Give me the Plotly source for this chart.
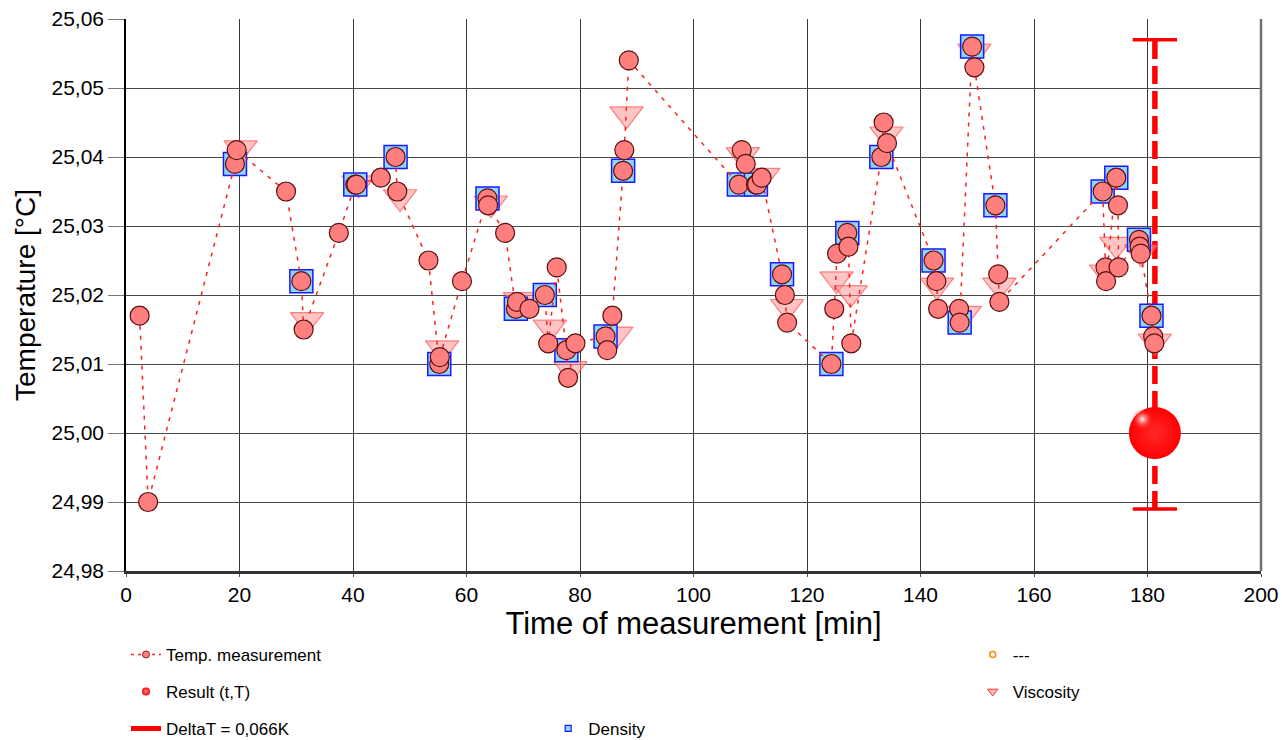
import plotly.graph_objects as go

# ---------------- data ----------------
temp_t = [2.4, 3.9, 19.2, 19.5, 28.2, 30.9, 31.3, 37.5, 40.4, 40.6, 44.9, 47.5, 47.8,
          53.3, 55.2, 55.3, 59.2, 63.7, 63.8, 66.8, 68.7, 68.9, 71.1, 73.8, 74.4,
          75.9, 77.6, 77.9, 79.2, 84.5, 84.8, 85.7, 87.6, 87.8, 88.6, 108.0, 108.5,
          109.2, 111.0, 111.2, 112.0, 115.6, 116.1, 116.5, 124.3, 124.8, 125.3,
          127.1, 127.3, 127.8, 133.1, 133.5, 134.1, 142.3, 142.8, 143.1, 146.8,
          146.9, 149.1, 149.5, 153.2, 153.7, 153.9, 172.1, 172.6, 172.7, 174.5,
          174.8, 174.9, 178.5, 178.6, 178.8, 180.7, 181.0, 181.2]
temp_T = [25.017, 24.990, 25.039, 25.041, 25.035, 25.022, 25.015, 25.029, 25.036, 25.036,
          25.037, 25.040, 25.035, 25.025, 25.010, 25.011, 25.022, 25.034, 25.033, 25.029,
          25.018, 25.019, 25.018, 25.020, 25.013, 25.024, 25.012, 25.008, 25.013, 25.014,
          25.012, 25.017, 25.038, 25.041, 25.054, 25.036, 25.041, 25.039, 25.036, 25.036,
          25.037, 25.023, 25.020, 25.016, 25.010, 25.018, 25.026, 25.029, 25.027, 25.013,
          25.040, 25.045, 25.042, 25.025, 25.022, 25.018, 25.018, 25.016, 25.056, 25.053,
          25.033, 25.023, 25.019, 25.035, 25.024, 25.022, 25.037, 25.033, 25.024, 25.028,
          25.027, 25.026, 25.017, 25.014, 25.013]

density_t = [19.2, 30.9, 40.4, 47.5, 55.2, 63.7, 68.7, 73.8, 77.6, 84.5, 87.6, 108.0,
             111.0, 115.6, 124.3, 127.1, 133.1, 142.3, 146.9, 149.1, 153.2, 172.1,
             174.5, 178.5, 180.7]
density_T = [25.039, 25.022, 25.036, 25.040, 25.010, 25.034, 25.018, 25.020, 25.012,
             25.014, 25.038, 25.036, 25.036, 25.023, 25.010, 25.029, 25.040, 25.025,
             25.016, 25.056, 25.033, 25.035, 25.037, 25.028, 25.017]

visc_t = [20.2, 31.9, 41.0, 48.3, 55.7, 64.3, 69.4, 74.7, 78.3, 86.4, 88.2, 108.7, 112.3,
          116.5, 125.2, 127.7, 134.0, 142.9, 147.8, 149.5, 153.9, 172.7, 174.5, 178.9, 181.3]
visc_T = [25.0413, 25.0164, 25.0362, 25.0342, 25.0123, 25.0333, 25.0193, 25.0153, 25.0093,
          25.0143, 25.0462, 25.0403, 25.0373, 25.0183, 25.0223, 25.0203, 25.0433, 25.0214,
          25.0173, 25.0553, 25.0214, 25.0233, 25.0273, 25.0262, 25.0133]

result_t = 181.3
result_T = 25.000
deltaT_low = 24.989
deltaT_high = 25.057
cap_half = 3.9  # minutes

x_ticks = [0, 20, 40, 60, 80, 100, 120, 140, 160, 180, 200]

FONT = "Liberation Sans, Arial, sans-serif"

fig = go.Figure()

# DeltaT error bar (dashed vertical + caps)
fig.add_trace(go.Scatter(x=[result_t, result_t], y=[deltaT_low, deltaT_high], mode="lines",
                         line=dict(color="#ff0000", width=5.5, dash="18px,7px"),
                         showlegend=False, hoverinfo="skip"))
for yy in (deltaT_low, deltaT_high):
    fig.add_trace(go.Scatter(x=[result_t - cap_half, result_t + cap_half], y=[yy, yy],
                             mode="lines", line=dict(color="#ff0000", width=3.5),
                             showlegend=False, hoverinfo="skip"))

# Viscosity triangles
fig.add_trace(go.Scatter(x=visc_t, y=visc_T, mode="markers",
                         marker=dict(symbol="triangle-down", size=29,
                                     color="rgba(255,150,150,0.55)",
                                     line=dict(color="rgba(255,60,60,0.6)", width=1.2)),
                         showlegend=False))
# Density squares
fig.add_trace(go.Scatter(x=density_t, y=density_T, mode="markers",
                         marker=dict(symbol="square", size=23, color="#8ed6fb",
                                     line=dict(color="#1a1aff", width=1.5)),
                         showlegend=False))
# Temperature line + circles
fig.add_trace(go.Scatter(x=temp_t, y=temp_T, mode="lines",
                         line=dict(color="#ff2020", width=1.5, dash="4px,6px"),
                         showlegend=False))
fig.add_trace(go.Scatter(x=temp_t, y=temp_T, mode="markers",
                         marker=dict(symbol="circle", size=19, color="#ff7f7f",
                                     line=dict(color="#5a1010", width=1.2)),
                         showlegend=False))
# Result sphere
fig.add_trace(go.Scatter(x=[result_t], y=[result_T], mode="markers",
                         marker=dict(symbol="circle", size=52, color="#ff0000",
                                     gradient=dict(type="radial", color="#ff2a2a"),
                                     line=dict(width=0)),
                         showlegend=False))
fig.add_trace(go.Scatter(x=[result_t - 2.2], y=[result_T + 0.0020], mode="markers",
                         marker=dict(symbol="circle", size=22, color="rgba(255,0,0,0)",
                                     gradient=dict(type="radial", color="#ffffff"),
                                     line=dict(width=0)),
                         showlegend=False, hoverinfo="skip"))

# ---------- legend proxies ----------
legend_items = [
    dict(name="Temp. measurement", legend="legend", mode="lines+markers",
         line=dict(color="#ff2020", width=1.5, dash="3px,4px"),
         marker=dict(symbol="circle", size=7, color="#ff8080", line=dict(color="#8b2020", width=1))),
    dict(name="Result (t,T)", legend="legend2", mode="markers",
         marker=dict(symbol="circle", size=8, color="#ff0000",
                     gradient=dict(type="radial", color="#ff9090"))),
    dict(name="DeltaT = 0,066K", legend="legend3", mode="lines",
         line=dict(color="#ff0000", width=5)),
    dict(name="Density", legend="legend4", mode="markers",
         marker=dict(symbol="square", size=6, color="#8ed6fb", line=dict(color="#1a1aff", width=1.2))),
    dict(name="---", legend="legend5", mode="markers",
         marker=dict(symbol="circle-open", size=6, color="#ff8c00", line=dict(width=1.5))),
    dict(name="Viscosity", legend="legend6", mode="markers",
         marker=dict(symbol="triangle-down", size=9, color="rgba(255,170,170,0.8)",
                     line=dict(color="#ff3030", width=1))),
]
for it in legend_items:
    fig.add_trace(go.Scatter(x=[None], y=[None], showlegend=True, **it))

leg_common = dict(font=dict(family=FONT, size=17, color="#000"), bgcolor="rgba(0,0,0,0)",
                  xanchor="left", yanchor="middle")
fig.update_layout(
    legend=dict(x=0.0, y=-0.152, **leg_common),
    legend2=dict(x=0.0, y=-0.219, **leg_common),
    legend3=dict(x=0.0, y=-0.286, **leg_common),
    legend4=dict(x=0.372, y=-0.286, **leg_common),
    legend5=dict(x=0.746, y=-0.152, **leg_common),
    legend6=dict(x=0.746, y=-0.219, **leg_common),
)

fig.update_layout(
    width=1282, height=740,
    margin=dict(l=126, r=21, t=19, b=169, autoexpand=False),
    paper_bgcolor="white", plot_bgcolor="white",
    separators=", ",
    font=dict(family=FONT, color="#000"),
    xaxis=dict(range=[0, 200], tickvals=x_ticks, showgrid=True, gridcolor="#3a3a3a", gridwidth=1,
               zeroline=False, showline=True, linecolor="#333333", linewidth=3,
               ticks="outside", ticklen=3, tickcolor="#555", tickfont=dict(size=21),
               title=dict(text="Time of measurement [min]", font=dict(size=31), standoff=8)),
    yaxis=dict(range=[24.98, 25.06], dtick=0.01, tick0=24.98, tickformat=".2f",
               showgrid=True, gridcolor="#4a4a4a", gridwidth=1, zeroline=False,
               showline=True, linecolor="#000000", linewidth=1.5,
               ticks="outside", ticklen=16, tickcolor="#777", tickfont=dict(size=21),
               title=dict(text="Temperature [°C]", font=dict(size=28), standoff=8)),
    hovermode=False,
)
fig.add_shape(type="line", xref="paper", yref="paper", x0=1, x1=1, y0=0, y1=1,
              line=dict(color="#707070", width=2.5))

fig.write_html("out.html", config={"displayModeBar": False},
               post_script="document.body.style.margin='0';document.body.style.overflow='hidden';")
